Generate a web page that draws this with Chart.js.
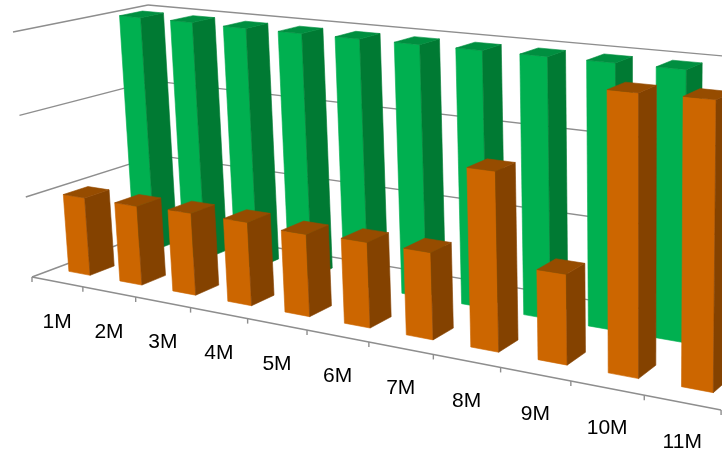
<!DOCTYPE html>
<html>
<head>
<meta charset="utf-8">
<script src="https://cdn.jsdelivr.net/npm/chart.js@4/dist/chart.umd.min.js"></script>
<style>
  html, body { margin: 0; padding: 0; background: #fff; }
  #wrap { width: 722px; height: 457px; }
</style>
</head>
<body>
<div id="wrap"><canvas id="chart" width="722" height="457"></canvas></div>
<script>
const labels = ["1M", "2M", "3M", "4M", "5M", "6M", "7M", "8M", "9M", "10M", "11M"];
const orangeValues = [97, 97, 99, 99, 96, 98, 98, 197, 98, 295, 296];
const greenValues = [299, 299, 298, 298, 298, 298, 298, 298, 298, 298, 298];
const valueTicks = [0, 100, 200, 300];

// projection of (t = category units, h = gridline units, d = depth 0..1) onto the canvas
const P = [
  [49.34, -6.46, 145.7, 32],
  [4.525, -81.99, -25.68, 277],
  [-0.01845, -0.0101, 0.1, 1],
];
function proj(t, h, d) {
  const w = P[2][0] * t + P[2][1] * h + P[2][2] * d + P[2][3];
  return [
    (P[0][0] * t + P[0][1] * h + P[0][2] * d + P[0][3]) / w,
    (P[1][0] * t + P[1][1] * h + P[1][2] * d + P[1][3]) / w,
  ];
}

const rows = [
  { ds: 1, d0: 0.66, d1: 0.84, front: "#00b050", side: "#007a33", top: "#008f40" },
  { ds: 0, d0: 0.16, d1: 0.34, front: "#cc6600", side: "#844200", top: "#964c00" },
];
const halfWidth = 0.21;

function poly(ctx, pts, color) {
  ctx.beginPath();
  pts.forEach((p, i) => (i ? ctx.lineTo(p[0], p[1]) : ctx.moveTo(p[0], p[1])));
  ctx.closePath();
  ctx.fillStyle = color;
  ctx.fill();
  ctx.strokeStyle = color;
  ctx.lineWidth = 0.6;
  ctx.stroke();
}

function line(ctx, a, b) {
  ctx.beginPath();
  ctx.moveTo(a[0], a[1]);
  ctx.lineTo(b[0], b[1]);
  ctx.stroke();
}

const bars3d = {
  id: "bars3d",
  beforeDatasetsDraw(chart) {
    const ctx = chart.ctx;
    const xs = chart.scales.x, ys = chart.scales.y;
    const n = chart.data.labels.length;
    const base = ys.getPixelForValue(0);
    const unit = base - ys.getPixelForValue(valueTicks[1]);
    const toH = (v) => (base - ys.getPixelForValue(v)) / unit;
    const toT = (i) => ((xs.getPixelForValue(i) - xs.left) / xs.width) * n;
    const hMax = toH(valueTicks[valueTicks.length - 1]);

    ctx.save();
    // walls: gridlines
    ctx.strokeStyle = "#8e8e8e";
    ctx.lineWidth = 1.4;
    valueTicks.forEach((v) => {
      const h = toH(v);
      line(ctx, proj(0, h, 0), proj(0, h, 1));
      line(ctx, proj(0, h, 1), proj(n, h, 1));
    });
    // category axis with ticks
    line(ctx, proj(0, 0, 0), proj(n, 0, 0));
    for (let i = 0; i <= n; i++) {
      const p = proj(i, 0, 0);
      line(ctx, p, [p[0], p[1] + 5]);
    }

    // bars, back row first
    rows.forEach((r) => {
      const data = chart.data.datasets[r.ds].data;
      data.forEach((v, i) => {
        const c = toT(i);
        const t0 = c - halfWidth, t1 = c + halfWidth;
        const h = Math.min(toH(v), hMax);
        const f = [proj(t0, 0, r.d0), proj(t1, 0, r.d0), proj(t1, h, r.d0), proj(t0, h, r.d0)];
        const s = [proj(t1, 0, r.d0), proj(t1, 0, r.d1), proj(t1, h, r.d1), proj(t1, h, r.d0)];
        const tp = [proj(t0, h, r.d0), proj(t1, h, r.d0), proj(t1, h, r.d1), proj(t0, h, r.d1)];
        poly(ctx, f, r.front);
        poly(ctx, s, r.side);
        poly(ctx, tp, r.top);
      });
    });

    // category labels
    ctx.fillStyle = "#000";
    ctx.font = "21px 'Liberation Sans', Arial, sans-serif";
    ctx.textAlign = "center";
    ctx.textBaseline = "middle";
    chart.data.labels.forEach((lab, i) => {
      const p = proj(toT(i), 0, 0);
      ctx.fillText(lab, p[0], p[1] + 40);
    });
    ctx.restore();
    return false;
  },
};

new Chart(document.getElementById("chart"), {
  type: "bar",
  data: {
    labels: labels,
    datasets: [
      { label: "Series 1", data: orangeValues, backgroundColor: "#cc6600" },
      { label: "Series 2", data: greenValues, backgroundColor: "#00b050" },
    ],
  },
  options: {
    responsive: false,
    animation: false,
    layout: { padding: 0 },
    scales: {
      x: { display: false },
      y: { display: false, min: 0, max: 300, ticks: { stepSize: 100 } },
    },
    plugins: { legend: { display: false }, tooltip: { enabled: false } },
  },
  plugins: [bars3d],
});
</script>
</body>
</html>
